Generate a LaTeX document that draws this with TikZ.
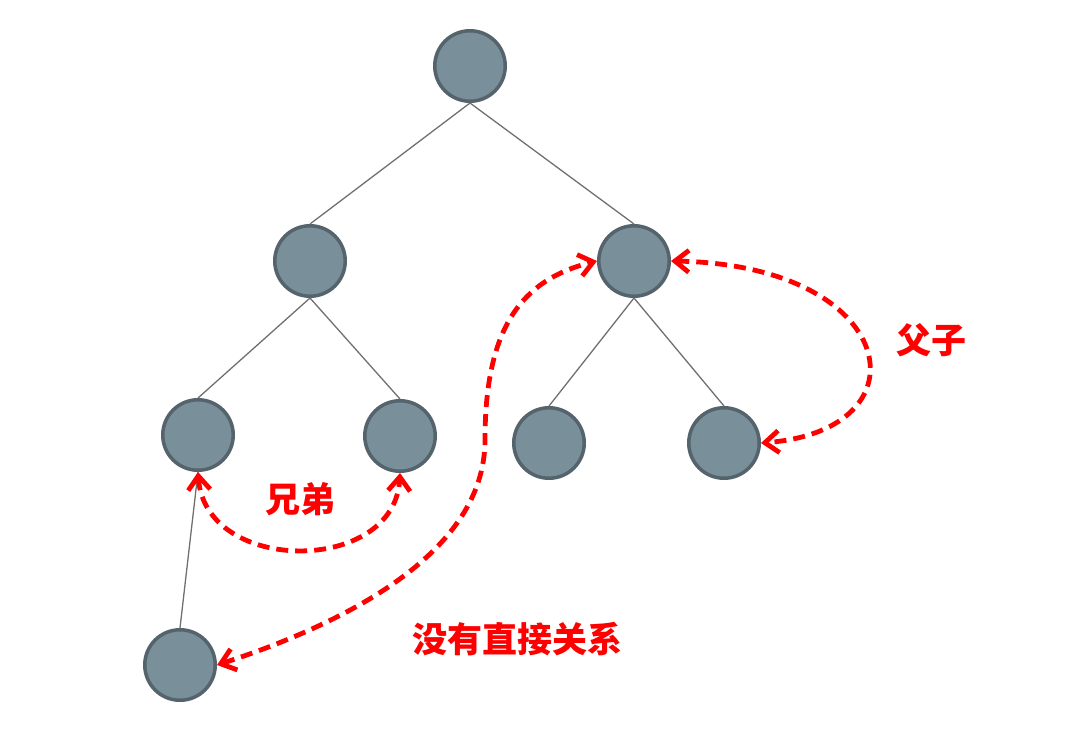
\documentclass[tikz,border=0pt]{standalone}
\usepackage{fontspec}
\newfontfamily\cjk{Noto Sans CJK SC}
\usetikzlibrary{arrows.meta}
\definecolor{nodefill}{RGB}{121,143,153}
\definecolor{nodeline}{RGB}{84,99,108}
\definecolor{branchgray}{RGB}{112,112,112}

\begin{document}
\begin{tikzpicture}[
  x=1pt, y=-1pt,
  vertex/.style={circle, draw=nodeline, fill=nodefill, line width=3.5pt, minimum size=70.5pt, inner sep=0pt},
  branch/.style={draw=branchgray, line width=1.3pt},
  relation/.style={red, line width=4.8pt, dash pattern=on 12pt off 7pt,
    {Straight Barb[length=14pt,width=22pt]}-{Straight Barb[length=14pt,width=22pt]}},
  relname/.style={text=red, font=\cjk\bfseries\fontsize{35}{35}\selectfont}
]
  \useasboundingbox (0,0) rectangle (1083,744);

  % tree
  \node[vertex] (root) at (470,66) {};
  \node[vertex] (a) at (310,261) {};
  \node[vertex] (b) at (634,261) {};
  \node[vertex] (aa) at (198,435) {};
  \node[vertex] (ab) at (400,436) {};
  \node[vertex] (ba) at (549,443) {};
  \node[vertex] (bb) at (724,443) {};
  \node[vertex] (aaa) at (180,665) {};
  \draw[branch] (root.south) -- (a.north);
  \draw[branch] (root.south) -- (b.north);
  \draw[branch] (a.south) -- (aa.north);
  \draw[branch] (a.south) -- (ab.north);
  \draw[branch] (b.south) -- (ba.north);
  \draw[branch] (b.south) -- (bb.north);
  \draw[branch] (aa.south) -- (aaa.north);

  % relations
  \draw[relation] (aa.south) .. controls (205,575) and (395,575) .. (ab.south);
  \draw[relation] (b.east) .. controls (900,265) and (930,430) .. (bb.east);
  \draw[relation] (aaa.east) .. controls (340,625) and (485,555) .. (485,440)
    .. controls (485,330) and (520,280) .. (b.west);

  \node[relname] (sib) at (300,499) {兄弟};
  \node[relname] (par) at (931,340) {父子};
  \node[relname] (none) at (517,639) {没有直接关系};
\end{tikzpicture}
\end{document}
